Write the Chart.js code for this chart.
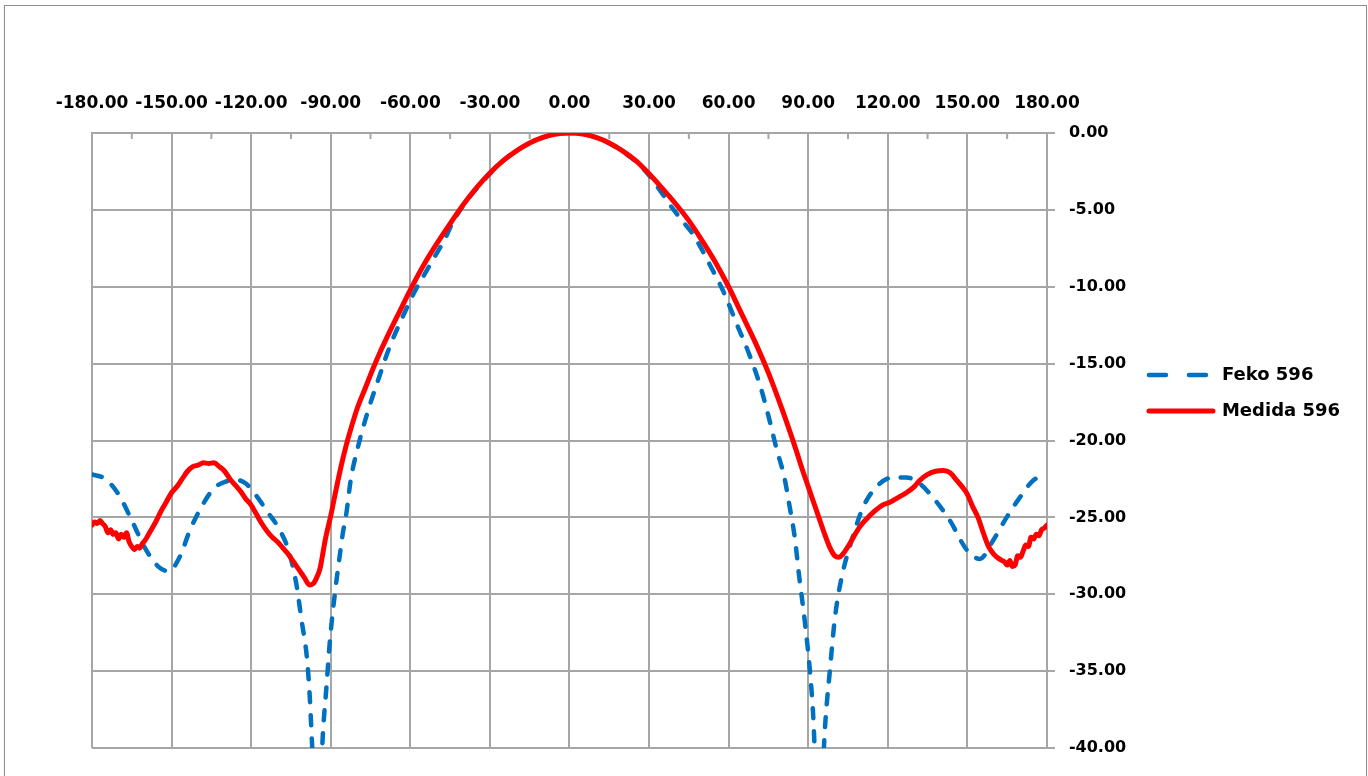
<!DOCTYPE html>
<html>
<head>
<meta charset="utf-8">
<script src="https://cdn.jsdelivr.net/npm/chart.js@4/dist/chart.umd.min.js"></script>
<style>
  html, body { margin: 0; padding: 0; background: #fff; overflow: hidden; }
  #frame { position: absolute; left: 4px; top: 5px; width: 1361px; height: 800px; border: 1px solid #8f8f8f; box-shadow: 0 1px 1px #c8c8c8; }
  #wrap { position: absolute; left: 0; top: 0; width: 1368px; height: 776px; }
</style>
</head>
<body>
<div id="frame"></div>
<div id="wrap"><canvas id="c" width="1368" height="776"></canvas></div>
<script>
// ---- data ----
const seriesNames = ['Feko 596', 'Medida 596'];

const fekoAngles = [-180,-175,-170,-165,-160,-155,-151,-147,-143,-138,-134,-130,-126,-122,-118,-114,-110,-106,-103,-101,-99,-98,-97,-95,-93,-91.6,-90.3,-88.4,-87,-85.5,-84,-82.5,-80,-76,-72,-68,-63,-58,-54,-51,-47,-44,-40,-35,-30,-25,-20,-15,-10,-5,0,5,10,15,20,25,30,34,38,42,46.6,50,53,58,63,68,72,75,78,81,83,85,86.5,88.8,90.6,92,92.5,94,96.2,98.2,100.1,102.6,106.4,110.8,115.8,122,127,132,137,143.4,149.7,154.7,159.7,164.8,169.8,174.8,180];
const fekoValues = [-22.2,-22.5,-23.5,-25.2,-27.0,-28.2,-28.5,-27.6,-25.8,-24.1,-23.1,-22.7,-22.55,-22.8,-23.6,-24.6,-25.6,-27.1,-29.3,-31.7,-34.1,-36.4,-39.9,-47,-39.2,-36.0,-33.0,-29.9,-28.0,-26.1,-24.6,-22.6,-20.6,-18.1,-16.0,-14.0,-12.0,-10.2,-9.0,-8.1,-6.9,-5.8,-4.7,-3.6,-2.65,-1.8,-1.16,-0.65,-0.29,-0.07,0,-0.07,-0.29,-0.67,-1.2,-1.85,-2.75,-3.7,-4.7,-5.6,-6.6,-7.6,-8.6,-10.3,-12.4,-14.5,-16.5,-18.4,-20.5,-22.4,-24.3,-26.4,-28.7,-31.9,-34.9,-38.3,-40.5,-47,-39.0,-34.9,-31.5,-28.9,-26.5,-24.3,-23.0,-22.4,-22.4,-22.8,-23.7,-25.2,-27.1,-27.7,-26.5,-25.0,-23.7,-22.6,-22.2];

const medidaAngles = [-180,-179,-178,-177,-176,-175,-174,-173,-172,-171,-170,-169,-168,-167,-166,-165,-164,-163,-162,-161,-160,-158,-156,-154,-152,-150,-148,-146,-144,-142,-140,-138,-136,-134,-132,-130,-128,-126,-124,-122,-120,-118,-116,-114,-112,-110,-108,-106,-104,-102,-100,-98,-96.5,-95,-94,-92,-90,-88,-86,-84,-82,-80,-77,-74,-71,-68,-64,-60,-55,-50,-45,-40,-35,-30,-25,-20,-15,-10,-5,0,5,10,15,20,25,30,35,40,45,50,55,60,65,70,75,80,85,88,90,92,94,96,98,100,101.5,103,105,107,109.5,112,115,118,121,124,127,130,132,135,138,141,143.5,146,148,150,152,154,156,158,160,162,164,165,166,167,168,169,170,171,172,173,174,175,176,177,178,179,180];
const medidaValues = [-25.5,-25.3,-25.4,-25.2,-25.4,-25.6,-26.0,-25.8,-26.1,-26.0,-26.4,-26.1,-26.3,-26.0,-26.6,-26.9,-27.1,-26.9,-27.0,-26.7,-26.5,-25.9,-25.3,-24.6,-24.0,-23.4,-23.0,-22.5,-22.0,-21.7,-21.6,-21.45,-21.5,-21.45,-21.7,-22.0,-22.5,-22.9,-23.3,-23.8,-24.2,-24.8,-25.4,-25.9,-26.3,-26.6,-27.0,-27.4,-27.9,-28.4,-28.9,-29.4,-29.3,-28.8,-28.3,-26.4,-24.9,-23.2,-21.6,-20.2,-19.0,-17.9,-16.6,-15.3,-14.1,-13.0,-11.6,-10.2,-8.6,-7.2,-5.9,-4.65,-3.55,-2.6,-1.8,-1.16,-0.65,-0.29,-0.07,0,-0.07,-0.29,-0.65,-1.16,-1.8,-2.65,-3.6,-4.6,-5.7,-7.0,-8.4,-10.0,-11.8,-13.6,-15.6,-17.9,-20.4,-22.0,-23.0,-24.0,-25.0,-26.0,-26.9,-27.5,-27.6,-27.4,-26.9,-26.3,-25.6,-25.1,-24.6,-24.2,-24.0,-23.7,-23.4,-23.0,-22.6,-22.2,-22.0,-21.95,-22.1,-22.6,-23.0,-23.5,-24.3,-25.0,-26.0,-26.9,-27.4,-27.7,-27.9,-28.1,-27.8,-28.2,-28.1,-27.5,-27.6,-27.2,-26.8,-26.9,-26.3,-26.4,-26.1,-26.2,-25.8,-25.7,-25.5];

const xTickStep = 30;   // labelled ticks: -180.00 ... 180.00
const xMinorStep = 15;  // small tick marks on the top axis
const yTickStep = 5;    // 0.00 ... -40.00

const toPoints = (xs, ys) => xs.map((x, i) => ({ x: x, y: ys[i] }));

const minorTicks = {
  id: 'minorTicks',
  beforeDatasetsDraw(chart) {
    const xs = chart.scales.x;
    const top = chart.chartArea.top;
    const ctx = chart.ctx;
    ctx.save();
    ctx.strokeStyle = '#a6a6a6';
    ctx.lineWidth = 2;
    for (let v = xs.min + xMinorStep; v < xs.max; v += xTickStep) {
      const px = xs.getPixelForValue(v);
      ctx.beginPath();
      ctx.moveTo(px, top);
      ctx.lineTo(px, top + 6);
      ctx.stroke();
    }
    ctx.restore();
  }
};

const FONT = "'DejaVu Sans', Verdana, sans-serif";

new Chart(document.getElementById('c'), {
  type: 'line',
  data: {
    datasets: [
      {
        label: seriesNames[0],
        data: toPoints(fekoAngles, fekoValues),
        borderColor: '#0070C0',
        backgroundColor: '#0070C0',
        borderWidth: 4.5,
        borderDash: [10, 13],
        borderCapStyle: 'round',
        pointRadius: 0,
        cubicInterpolationMode: 'monotone',
        fill: false,
        order: 1
      },
      {
        label: seriesNames[1],
        data: toPoints(medidaAngles, medidaValues),
        borderColor: '#FF0000',
        backgroundColor: '#FF0000',
        borderWidth: 5,
        borderCapStyle: 'round',
        borderJoinStyle: 'round',
        pointRadius: 0,
        cubicInterpolationMode: 'monotone',
        fill: false,
        order: 0
      }
    ]
  },
  options: {
    responsive: false,
    animation: false,
    devicePixelRatio: 1,
    layout: { padding: { top: 38, bottom: 28, left: 92, right: 18 } },
    scales: {
      x: {
        type: 'linear',
        position: 'top',
        min: -180,
        max: 180,
        afterFit: (s) => { s.height = 95; },
        ticks: {
          stepSize: xTickStep,
          callback: (v) => Number(v).toFixed(2),
          font: { family: FONT, size: 17, weight: 'bold' },
          color: '#000',
          padding: 19,
          maxRotation: 0,
          autoSkip: false
        },
        grid: { color: '#a6a6a6', lineWidth: 2, drawTicks: false },
        border: { display: true, color: '#a6a6a6', width: 2 }
      },
      y: {
        type: 'linear',
        position: 'right',
        min: -40,
        max: 0,
        afterFit: (s) => { s.width = 84; },
        ticks: {
          stepSize: yTickStep,
          callback: (v) => Number(v).toFixed(2),
          font: { family: FONT, size: 16, weight: 'bold' },
          color: '#000',
          padding: 14
        },
        grid: { color: '#a6a6a6', lineWidth: 2, drawTicks: true, tickLength: 8 },
        border: { display: true, color: '#a6a6a6', width: 2 }
      }
    },
    plugins: {
      legend: {
        position: 'right',
        align: 'center',
        labels: {
          usePointStyle: true,
          pointStyle: 'line',
          pointStyleWidth: 64,
          font: { family: FONT, size: 18, weight: 'bold' },
          color: '#000',
          padding: 18,
          sort: (a, b) => a.datasetIndex - b.datasetIndex,
          generateLabels: (chart) => {
            const items = Chart.defaults.plugins.legend.labels.generateLabels(chart);
            items.forEach((it) => {
              const ds = chart.data.datasets[it.datasetIndex];
              it.lineWidth = ds.borderWidth;
              it.lineCap = 'round';
              it.lineDash = (ds.borderDash && ds.borderDash.length) ? [17, 23] : [];
            });
            return items;
          }
        }
      },
      tooltip: { enabled: false }
    }
  },
  plugins: [minorTicks]
});
</script>
</body>
</html>
